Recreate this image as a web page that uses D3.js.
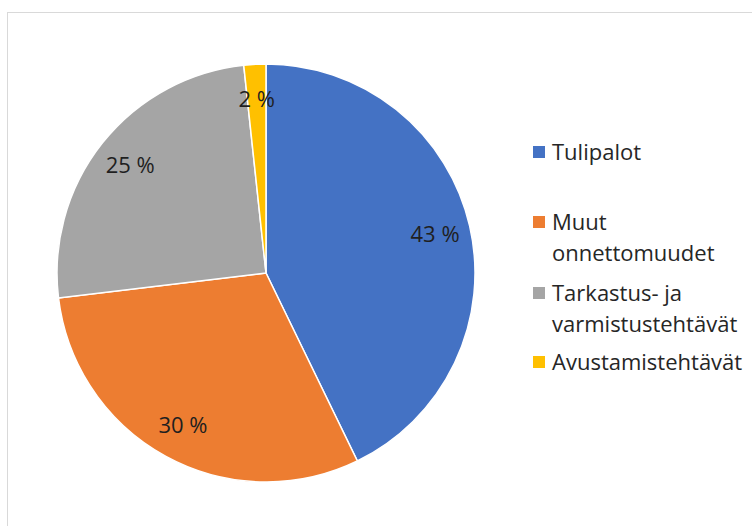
<!DOCTYPE html>
<html>
<head>
<meta charset="utf-8">
<script src="https://cdn.jsdelivr.net/npm/d3@7"></script>
<style>
  body { margin: 0; background: #fff; }
  svg text { font-family: "Open Sans", sans-serif; }
</style>
</head>
<body>
<svg id="chart" width="752" height="526"></svg>
<script>
// categories and shares (percent)
const categories = ["Tulipalot", "Muut onnettomuudet", "Tarkastus- ja varmistustehtävät", "Avustamistehtävät"];
const shares = [42.8, 30.3, 25.2, 1.7];
const shareLabels = ["43 %", "30 %", "25 %", "2 %"];
const legendLines = [["Tulipalot"], ["Muut", "onnettomuudet"], ["Tarkastus- ja", "varmistustehtävät"], ["Avustamistehtävät"]];
const colors = ["#4472c4", "#ed7d31", "#a5a5a5", "#ffc000"];

const svg = d3.select("#chart");

// chart area frame
svg.append("rect")
    .attr("x", 7.5).attr("y", 12.5)
    .attr("width", 760).attr("height", 530)
    .attr("fill", "none")
    .attr("stroke", "#d9d9d9");

const cx = 266, cy = 273, r = 209;

const pie = d3.pie().sort(null).value(d => d);
const arcs = pie(shares);
const arc = d3.arc().innerRadius(0).outerRadius(r);
const labelArc = d3.arc().innerRadius(r * 0.83).outerRadius(r * 0.83);

const g = svg.append("g").attr("transform", `translate(${cx},${cy})`);

g.selectAll("path.slice")
    .data(arcs)
    .enter().append("path")
    .attr("class", "slice")
    .attr("d", arc)
    .attr("fill", (d, i) => colors[i])
    .attr("stroke", "#fff")
    .attr("stroke-width", 1.5);

g.selectAll("text.pct")
    .data(arcs)
    .enter().append("text")
    .attr("class", "pct")
    .attr("transform", d => `translate(${labelArc.centroid(d)})`)
    .attr("text-anchor", "middle")
    .attr("dy", "0.35em")
    .style("font-size", "22px")
    .style("fill", "#1f1f1f")
    .text((d, i) => shareLabels[i]);

// legend
const legendY = [152, 222, 293, 362];
const lineH = 31;
const legend = svg.append("g").attr("transform", "translate(533,0)");

const items = legend.selectAll("g.item")
    .data(categories)
    .enter().append("g")
    .attr("class", "item")
    .attr("transform", (d, i) => `translate(0,${legendY[i]})`);

items.append("rect")
    .attr("x", 0).attr("y", -6)
    .attr("width", 12).attr("height", 12)
    .attr("fill", (d, i) => colors[i]);

items.each(function(d, i) {
    const t = d3.select(this).append("text")
        .attr("x", 19)
        .attr("y", 0)
        .style("font-size", "22px")
        .style("fill", "#262626");
    legendLines[i].forEach((line, j) => {
        t.append("tspan")
            .attr("x", 19)
            .attr("y", j * lineH)
            .attr("dy", "0.35em")
            .text(line);
    });
});
</script>
</body>
</html>
